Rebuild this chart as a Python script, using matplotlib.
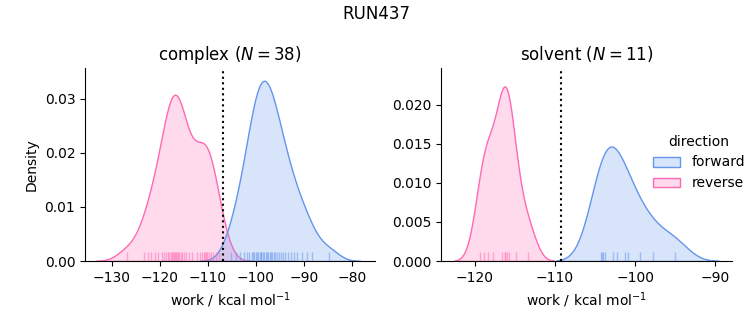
import numpy as np
import pandas as pd
import seaborn as sns
import matplotlib.pyplot as plt
from matplotlib.patches import Patch
from matplotlib.ticker import MultipleLocator

run = 'RUN437'

# work values (kcal/mol)
complex_forward = [-105.2, -104.2, -103.3, -102.5, -101.9, -101.4, -100.9, -100.7, -100.5, -100.1,
                   -99.8, -99.5, -99.2, -99.0, -98.9, -98.6, -98.3, -98.0, -97.8, -97.5,
                   -97.2, -96.9, -96.6, -96.3, -96.0, -95.6, -95.2, -94.8, -94.4, -93.9,
                   -93.4, -92.8, -92.1, -91.4, -90.5, -89.4, -88.4, -84.9]
complex_reverse = [-126.7, -123.2, -122.4, -121.8, -121.0, -120.3, -119.6, -119.1, -118.6, -118.3,
                   -118.0, -117.7, -117.4, -117.2, -117.1, -116.9, -116.6, -116.4, -116.2, -115.9,
                   -115.6, -115.3, -115.0, -114.6, -114.0, -113.2, -112.2, -111.6, -111.2, -110.9,
                   -110.6, -110.4, -110.2, -109.7, -109.4, -109.0, -108.4, -107.6]
solvent_forward = [-104.3, -104.2, -104.0, -103.8, -102.8, -102.3, -101.3, -100.9, -99.4, -97.8, -95.1]
solvent_reverse = [-119.3, -118.8, -118.4, -117.7, -116.6, -116.3, -116.2, -116.0, -115.8, -114.9, -113.4]

# free energy estimates (dotted lines)
dg_complex = -106.8
dg_solvent = -109.2

rows = []
for leg, fwd, rev in [('complex', complex_forward, complex_reverse),
                      ('solvent', solvent_forward, solvent_reverse)]:
    rows += [(leg, 'forward', w) for w in fwd]
    rows += [(leg, 'reverse', w) for w in rev]
df = pd.DataFrame(rows, columns=['leg', 'direction', 'work'])

palette = {'forward': 'cornflowerblue', 'reverse': 'hotpink'}

g = sns.displot(df, x='work', hue='direction', col='leg', kind='kde', fill=True,
                rug=True, palette=palette, rug_kws=dict(height=0.045, alpha=0.5),
                facet_kws=dict(sharex=False, sharey=False))
g._legend.remove()

fig = g.figure
fig.set_size_inches(7.53, 3.25)
fig.set_dpi(100)
ax1, ax2 = g.axes.flat
ax1.set_position([0.1129, 0.1969, 0.3851, 0.5938])
ax2.set_position([0.5857, 0.1969, 0.3865, 0.5938])
ax1.xaxis.set_major_locator(MultipleLocator(10))
ax1.set_xlim(-135.5, -75.3)
ax1.set_ylim(0, 0.0357)
ax2.set_ylim(0, 0.0247)

for ax, name, n, dg in [(ax1, 'complex', len(complex_forward), dg_complex),
                        (ax2, 'solvent', len(solvent_forward), dg_solvent)]:
    ax.axvline(dg, color='k', ls=':', lw=1.5)
    ax.set_title(f'{name} ($N = {n}$)', fontsize=12)
    ax.set_xlabel('work / kcal mol$^{-1}$')
ax1.set_ylabel('Density')
ax2.set_ylabel('')
ax2.tick_params(labelleft=True)

handles = [Patch(facecolor=(*plt.matplotlib.colors.to_rgb(palette[d]), 0.25),
                 edgecolor=palette[d]) for d in palette]
fig.legend(handles, list(palette), title='direction', frameon=False,
           loc='center left', bbox_to_anchor=(0.85, 0.5), fontsize=10, title_fontsize=10)

fig.suptitle(run, fontsize=12, y=0.985)
fig.savefig('out.png', dpi=100)
